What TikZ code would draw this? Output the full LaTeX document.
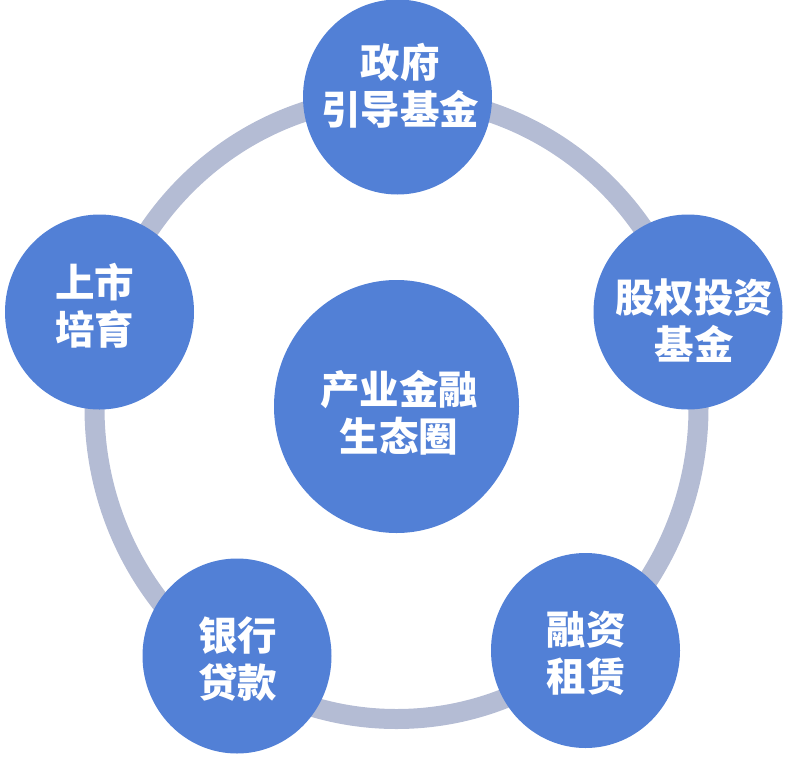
\documentclass[tikz,border=0pt]{standalone}
\usepackage{fontspec}
\newfontfamily\cjk{Noto Sans CJK SC}
\usetikzlibrary{shapes.geometric}
\definecolor{bubblefill}{RGB}{82,128,214}
\definecolor{ringcol}{RGB}{180,188,212}
\tikzset{
  bubble/.style={ellipse, fill=bubblefill, draw=none, inner sep=0pt,
    minimum width=189pt, minimum height=195pt},
  hub/.style={bubble, minimum width=245pt, minimum height=253pt},
  txt/.style={text=white, align=center, inner sep=0pt,
    font=\cjk\bfseries\fontsize{39.5}{47}\selectfont},
  ring/.style={draw=ringcol, line width=20pt}
}
\begin{document}
\begin{tikzpicture}[x=1pt,y=-1pt]
\useasboundingbox (0,0) rectangle (801,756);
\coordinate (rc) at (396.5,408);
\draw[ring] (rc) ellipse [x radius=302, y radius=311];
\node[bubble] (gov) at (397.5,97) {};
\node[bubble] (equity) at (688,312) {};
\node[bubble] (lease) at (585.5,650.5) {};
\node[bubble] (bank) at (237,656) {};
\node[bubble] (ipo) at (99.5,312) {};
\node[hub] (hub) at (396.5,406.5) {};
\node[txt] (govT) at (400,86) {政府\\引导基金};
\node[txt] (equityT) at (694,321) {股权投资\\基金};
\node[txt] (leaseT) at (586,653.5) {融资\\租赁};
\node[txt] (bankT) at (237.5,659) {银行\\贷款};
\node[txt] (ipoT) at (94.5,305.5) {上市\\培育};
\node[txt] (hubT) at (399,413) {产业金融\\生态圈};
\end{tikzpicture}
\end{document}
